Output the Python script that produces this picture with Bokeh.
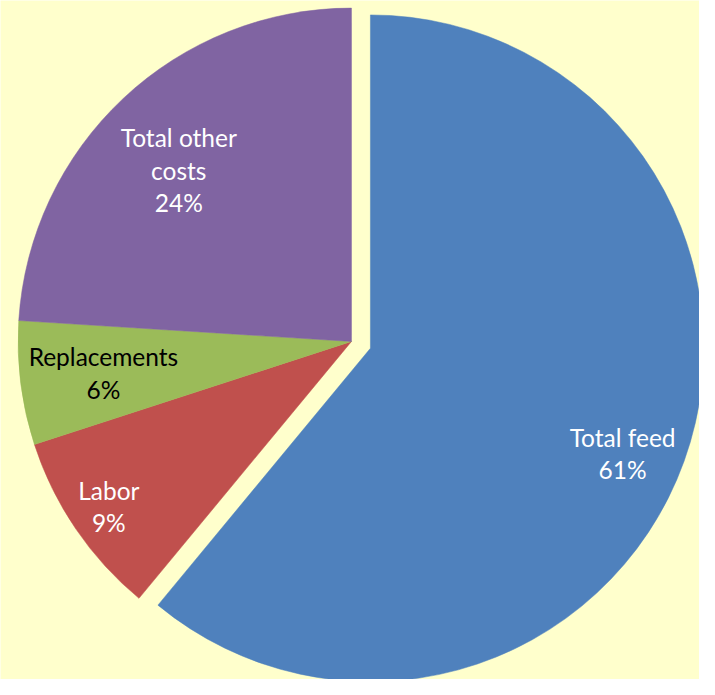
import math
from bokeh.plotting import figure
from bokeh.models import Range1d, ColumnDataSource
from bokeh.core.properties import value
from bokeh.embed import file_html
from bokeh.resources import INLINE

# ---- data ----
categories = ["Total feed", "Labor", "Replacements", "Total other costs"]
label_texts = ["Total feed", "Labor", "Replacements", "Total other\ncosts"]
shares = [61, 9, 6, 24]
colors = ["#4F81BD", "#C0504D", "#9BBB59", "#8064A2"]
label_colors = ["white", "white", "black", "white"]
explode = [20.6, 0, 0, 0]

# ---- layout ----
BG = "#FFFFCC"
W, H = 699, 679
cx, cy = 359, -349        # centre in reference-picture coordinates (y negated)
R = 341
label_r = [0.82, 0.88, 0.75, 0.73]
label_dang = [-2.9, 0.0, 0.0, 2.0]   # degrees

total = float(sum(shares))
start = math.pi / 2
starts, ends, xs, ys, lx, ly, texts = [], [], [], [], [], [], []
for i, s in enumerate(shares):
    sweep = 2 * math.pi * s / total
    a0 = start
    a1 = start - sweep
    mid = (a0 + a1) / 2
    ox = cx + explode[i] * math.cos(mid)
    oy = cy + explode[i] * math.sin(mid)
    starts.append(a0)
    ends.append(a1)
    xs.append(ox)
    ys.append(oy)
    la = mid + math.radians(label_dang[i])
    lx.append(ox + label_r[i] * R * math.cos(la))
    ly.append(oy + label_r[i] * R * math.sin(la))
    texts.append(f"{label_texts[i]}\n{s}%")
    start = a1

src = ColumnDataSource(dict(x=xs, y=ys, start=starts, end=ends, color=colors,
                            lx=lx, ly=ly, text=texts, tcolor=label_colors,
                            cat=categories))

p = figure(width=W, height=H, x_range=Range1d(0, 715), y_range=Range1d(-695, 0),
           output_backend="svg", toolbar_location=None, min_border=0,
           background_fill_color=BG, border_fill_color=BG, outline_line_color=None)
p.axis.visible = False
p.grid.visible = False

p.wedge(x="x", y="y", radius=R, start_angle="start", end_angle="end",
        direction="clock", fill_color="color", line_color="color", line_width=0.5,
        source=src)

p.text(x="lx", y="ly", text="text", text_color="tcolor", source=src,
       text_font=value("Lato"), text_font_size="24.5px", text_align="center",
       text_baseline="middle", text_line_height=1.12)

html = file_html(p, INLINE)
html = html.replace("<body>", f'<body style="background:{BG};">', 1)
open("out.html", "w").write(html)
